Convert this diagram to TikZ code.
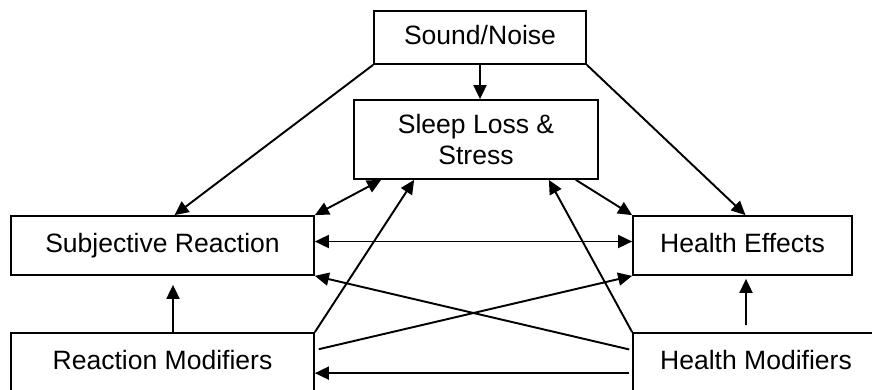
\documentclass[tikz,border=0pt]{standalone}
\usepackage{fontspec}
\setmainfont{Liberation Sans}
\usetikzlibrary{arrows.meta}
\begin{document}
\begin{tikzpicture}[x=0.02cm,y=-0.02cm,
    blk/.style={draw,line width=1pt,inner sep=0pt,font=\fontsize{15.1}{17.1}\selectfont},
    oneline/.style={blk,text height=11pt,text depth=3pt},
    lnk/.style={line width=1.1pt},
    >={Triangle[length=8pt,width=7.4pt]}]
    \useasboundingbox (0,0) rectangle (872,389);
    \clip (0,0) rectangle (872,389);

    \node[oneline,minimum width=4.24cm,minimum height=1.06cm] (snd) at (480,37.5) {Sound/Noise};
    \node[blk,align=center,minimum width=4.88cm,minimum height=1.58cm] (sleep) at (476,139.5) {Sleep Loss \&\\Stress};
    \node[oneline,minimum width=6.06cm,minimum height=1.18cm] (subj) at (162.5,245.5) {Subjective Reaction};
    \node[oneline,minimum width=4.38cm,minimum height=1.18cm] (hlth) at (742.5,245.5) {Health Effects};
    \node[oneline,minimum width=6.06cm,minimum height=1.18cm] (rmod) at (162.5,362.5) {Reaction Modifiers};
    \node[oneline,minimum width=4.92cm,minimum height=1.18cm] (hmod) at (756,362.5) {Health Modifiers};

    \draw[->,lnk] (snd.south) -- (snd.south |- sleep.north);
    \draw[->,lnk] (snd.south west) -- ([xshift=0.24cm]subj.north);
    \draw[->,lnk] (snd.south east) -- ([xshift=0.06cm]hlth.north);
    \draw[<->,lnk] ([xshift=0.56cm]sleep.south west) -- (subj.north east);
    \draw[->,lnk] ([xshift=-0.46cm]sleep.south east) -- (hlth.north west);
    \draw[<->,lnk] ([yshift=0.08cm]subj.east) -- ([yshift=0.08cm]hlth.west);
    \draw[->,lnk] (rmod.north east) -- ([xshift=1.22cm]sleep.south west);
    \draw[->,lnk] (hmod.north west) -- ([xshift=-1.0cm]sleep.south east);
    \draw[->,lnk,shorten <=0.06cm] ([yshift=-0.36cm]hmod.north west) -- (subj.south east);
    \draw[->,lnk,shorten <=0.08cm] ([yshift=-0.36cm]rmod.north east) -- (hlth.south west);
    \draw[->,lnk,shorten <=0.06cm] ([yshift=-0.82cm]hmod.north west) -- ([yshift=-0.82cm]rmod.north east);
    \draw[->,lnk,shorten >=0.18cm] ([xshift=0.21cm]rmod.north) -- ([xshift=0.21cm]subj.south);
    \draw[->,lnk,shorten <=0.14cm,shorten >=0.06cm] ([xshift=-0.2cm]hmod.north) -- ([xshift=0.07cm]hlth.south);
\end{tikzpicture}
\end{document}
